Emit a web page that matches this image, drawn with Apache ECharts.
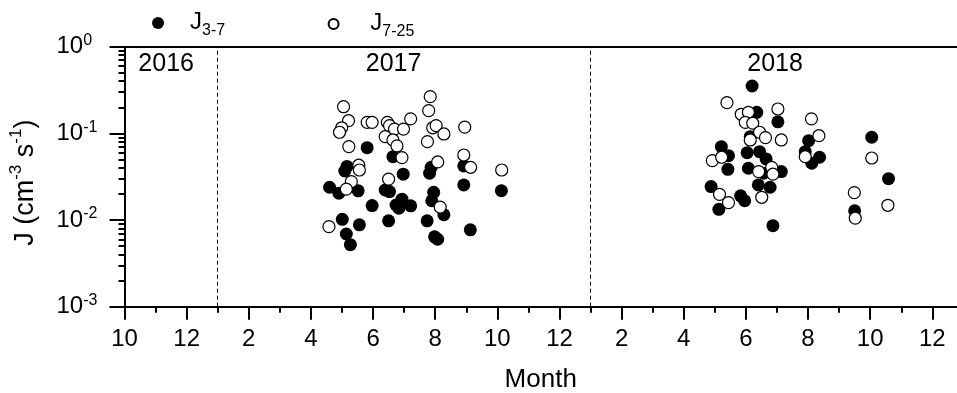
<!DOCTYPE html>
<html><head><meta charset="utf-8">
<script src="https://cdn.jsdelivr.net/npm/echarts@6/dist/echarts.min.js"></script>
<style>html,body{margin:0;padding:0;background:#fff}#c{width:957px;height:393px}</style>
</head><body><div id="c"></div>
<script>
// ---- data (months counted continuously: 10 = Oct 2016, 13 = Jan 2017, 25 = Jan 2018) ----
const j37Month = [17.81,18.64,17.16,17.09,18.97,19.82,19.87,20.92,20.92,16.60,16.90,17.52,18.39,18.53,17.97,18.74,18.93,18.83,19.21,19.95,19.89,20.28,17.01,17.56,18.50,19.74,17.14,17.27,19.98,20.08,21.13,22.13,
  30.20,30.35,31.03,30.14,29.21,29.44,29.42,30.04,30.44,30.65,30.08,30.57,31.14,30.40,30.78,28.88,29.13,29.83,29.96,30.87,32.02,31.91,32.12,32.37,34.05,34.59,33.50];
const j37Value = [0.0684,0.0538,0.0415,0.0368,0.0338,0.0347,0.0406,0.0421,0.0254,0.0239,0.0204,0.0217,0.0222,0.0213,0.0147,0.0149,0.0174,0.0137,0.0146,0.0209,0.0167,0.0115,0.0102,0.0088,0.0098,0.0098,0.0069,0.0052,0.0064,0.0060,0.0077,0.0218,
  0.352,0.175,0.136,0.0916,0.0703,0.0553,0.0385,0.0599,0.0615,0.0507,0.0396,0.0347,0.0362,0.0254,0.0239,0.0243,0.0133,0.0190,0.0167,0.0086,0.0824,0.0615,0.0452,0.0530,0.0902,0.0300,0.0128];
const j725Month = [17.05,17.21,16.99,16.92,17.81,17.97,18.46,18.53,18.69,18.98,19.21,18.39,18.64,18.77,17.22,18.93,19.84,19.79,19.92,20.03,20.28,19.75,20.95,20.92,21.14,20.08,17.54,17.56,17.30,17.14,18.50,20.16,16.58,22.14,
  29.39,29.85,30.08,29.98,30.22,31.03,32.11,30.44,30.63,31.14,30.14,32.35,28.92,29.22,31.91,30.41,30.83,30.87,29.15,29.44,30.51,34.05,33.49,33.52,34.57];
const j725Value = [0.203,0.140,0.116,0.103,0.134,0.134,0.134,0.123,0.112,0.112,0.147,0.0916,0.0839,0.0716,0.0703,0.0525,0.265,0.183,0.116,0.123,0.0984,0.0802,0.118,0.0563,0.0406,0.0468,0.0429,0.0378,0.0277,0.0227,0.0296,0.0141,0.0084,0.0378,
  0.226,0.166,0.175,0.134,0.131,0.191,0.147,0.103,0.0892,0.0839,0.0839,0.0940,0.0484,0.0530,0.0538,0.0362,0.0406,0.0338,0.0198,0.0159,0.0183,0.0520,0.0207,0.0105,0.0148];

const xMajorValues = [10,12,14,16,18,20,22,24,26,28,30,32,34,36];
const xMajorLabels = ['10','12','2','4','6','8','10','12','2','4','6','8','10','12'];
const xMinorValues = [11,13,15,17,19,21,23,25,27,29,31,33,35];
const yMajorValues = [0.001,0.01,0.1,1];
const yMajorExp = ['-3','-2','-1','0'];
const yMinorValues = [0.002,0.003,0.004,0.005,0.006,0.007,0.008,0.009,0.02,0.03,0.04,0.05,0.06,0.07,0.08,0.09,0.2,0.3,0.4,0.5,0.6,0.7,0.8,0.9];
const yearDividers = [13,25];
const yearText = ['2016','2017','2018'];
const yearMonth = [11.34,18.66,30.94];
const yearJ = [0.632,0.632,0.632];
const seriesNames = ['J3-7','J7-25'];
const seriesSub = ['3-7','7-25'];

// ---- chart ----
const FONT = '"Liberation Sans", Arial, sans-serif';
const K = '#000';
const zip = (a,b) => a.map((v,i) => [v, b[i]]);
const chart = echarts.init(document.getElementById('c'), null, {renderer:'canvas'});

const legendRich = {
  m:{fontSize:24, lineHeight:26, verticalAlign:'top', fontFamily:FONT, color:K},
  s:{fontSize:16, lineHeight:16, padding:[13,0,0,0], verticalAlign:'top', fontFamily:FONT, color:K}
};
const legendFmt = name => '{m|J}{s|' + seriesSub[seriesNames.indexOf(name)] + '}';

const yCommon = {type:'log', logBase:10, min:0.001, max:1, splitLine:{show:false}, minorTick:{show:false}};
// grid 0: extends past the right edge so that the scale ends on a whole tick; grid 1: visible part only
const PX_PER_MONTH = 31.07;
const grid0 = {left:124.5, top:46.7, width:28 * PX_PER_MONTH, height:260, containLabel:false, outerBoundsMode:'none'};
const grid1 = {left:124.5, top:46.7, width:957 - 124.5, height:260, containLabel:false, outerBoundsMode:'none'};
const visMax = 10 + (957 - 124.5) / PX_PER_MONTH;

chart.setOption({
  animation:false,
  backgroundColor:'#fff',
  grid:[grid0, grid1],
  legend:[
    {data:[seriesNames[0]], left:152, top:10, padding:0, itemWidth:54, itemHeight:12, selectedMode:false,
     formatter:legendFmt, textStyle:{rich:legendRich, color:K}},
    {data:[seriesNames[1]], left:327.6, top:11, padding:0, itemWidth:63.4, itemHeight:10, selectedMode:false,
     formatter:legendFmt, textStyle:{rich:legendRich, color:K}}
  ],
  xAxis:[
    {type:'value', min:10, max:38, interval:2, gridIndex:0, position:'bottom',
      splitLine:{show:false}, minorTick:{show:false},
      axisLine:{show:true, onZero:false, lineStyle:{color:K, width:2}},
      axisTick:{show:true, inside:false, length:13, customValues:xMajorValues, lineStyle:{color:K, width:2}},
      axisLabel:{show:true, customValues:xMajorValues, margin:21, fontSize:24, lineHeight:24, color:K, fontFamily:FONT,
        formatter:v => xMajorLabels[xMajorValues.indexOf(Math.round(v))] || ''}},
    {type:'value', min:10, max:38, gridIndex:0, position:'top',
      splitLine:{show:false}, minorTick:{show:false},
      axisLine:{show:true, onZero:false, lineStyle:{color:K, width:2}},
      axisTick:{show:false}, axisLabel:{show:false}},
    {type:'value', min:10, max:visMax, gridIndex:1, position:'bottom',
      splitLine:{show:false}, minorTick:{show:false},
      axisLine:{show:false, onZero:false},
      axisTick:{show:true, inside:false, length:6, customValues:xMinorValues, lineStyle:{color:K, width:2}},
      axisLabel:{show:false},
      name:'Month', nameLocation:'middle', nameGap:60,
      nameTextStyle:{fontSize:26, lineHeight:26, color:K, fontFamily:FONT}}
  ],
  yAxis:[
    Object.assign({}, yCommon, {gridIndex:0, position:'left',
      axisLine:{show:true, onZero:false, lineStyle:{color:K, width:2}},
      axisTick:{show:true, inside:false, length:15, customValues:yMajorValues, lineStyle:{color:K, width:2}},
      axisLabel:{show:true, customValues:yMajorValues, align:'left', margin:68, color:K, fontFamily:FONT,
        formatter:v => {
          let i = 0, best = 1e9;
          yMajorValues.forEach((t,k) => { const d = Math.abs(Math.log10(t) - Math.log10(v)); if (d < best) { best = d; i = k; } });
          return '{b|10}{p|' + yMajorExp[i] + '}';
        },
        rich:{
          b:{fontSize:24, lineHeight:26, verticalAlign:'middle', fontFamily:FONT, color:K},
          p:{fontSize:16, lineHeight:16, padding:[0,0,12,0], verticalAlign:'middle', fontFamily:FONT, color:K}
        }},
      name:'{t|J (cm}{p|-3}{t| s}{p|-1}{t|)}', nameLocation:'middle', nameRotate:90, nameGap:85.5,
      nameTextStyle:{color:K, fontFamily:FONT, fontSize:27, padding:[0,12,0,0], rich:{
        t:{fontSize:27, lineHeight:28, verticalAlign:'bottom', fontFamily:FONT, color:K},
        p:{fontSize:17, lineHeight:17, padding:[0,0,14,0], verticalAlign:'bottom', fontFamily:FONT, color:K}
      }}}),
    Object.assign({}, yCommon, {gridIndex:1, position:'left',
      axisLine:{show:false, onZero:false},
      axisTick:{show:true, inside:false, length:6, customValues:yMinorValues, lineStyle:{color:K, width:2}},
      axisLabel:{show:false}})
  ],
  series:[
    {name:seriesNames[0], type:'scatter', xAxisIndex:0, yAxisIndex:0, symbol:'circle', symbolSize:13,
     itemStyle:{color:K, opacity:1}, data:zip(j37Month, j37Value), z:3,
     markLine:{silent:true, symbol:['none','none'], label:{show:false}, animation:false,
       lineStyle:{color:K, width:1, type:[4,3]}, data:yearDividers.map(v => ({xAxis:v}))}},
    {name:seriesNames[1], type:'scatter', xAxisIndex:0, yAxisIndex:0, symbol:'circle', symbolSize:12,
     itemStyle:{color:'#fff', borderColor:K, borderWidth:1.2, opacity:1}, data:zip(j725Month, j725Value), z:4},
    {name:'years', type:'scatter', xAxisIndex:0, yAxisIndex:0, symbol:'circle', symbolSize:1, silent:true,
     itemStyle:{color:'rgba(0,0,0,0)'},
     label:{show:true, position:'inside', formatter:'{b}', fontSize:25, color:'#000', opacity:1,
       textBorderWidth:0, textBorderColor:'transparent', textShadowBlur:0, fontFamily:FONT},
     emphasis:{disabled:true},
     data:yearText.map((t,i) => ({name:t, value:[yearMonth[i], yearJ[i]]})), z:5}
  ]
});
</script></body></html>
